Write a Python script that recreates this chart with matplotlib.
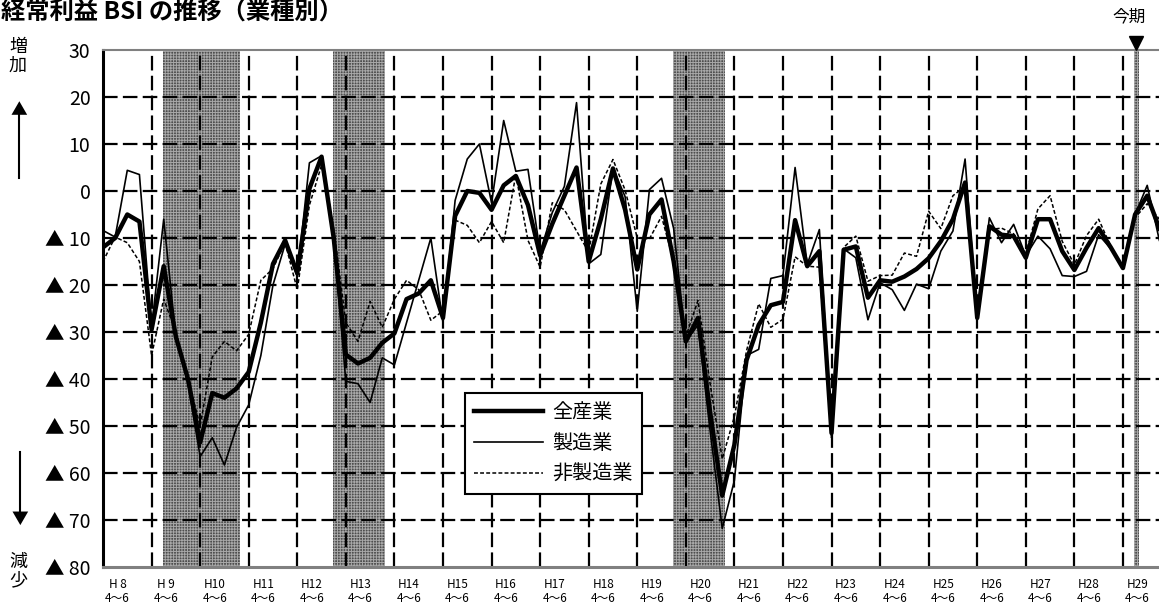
import numpy as np
import matplotlib
matplotlib.use("Agg")
import matplotlib.pyplot as plt
from matplotlib.lines import Line2D

plt.rcParams['font.family'] = ['Noto Sans CJK JP', 'DejaVu Sans']
plt.rcParams['hatch.linewidth'] = 0.7
plt.rcParams['lines.scale_dashes'] = False

# 四半期ごと（H8 1～3月期 ～ H29 10～12月期）
all_industries = [
    -12, -10, -5, -6.5, -29.5, -16, -31, -40, -53.5, -43, -44, -42,
    -38.5, -28, -15.5, -10.5, -17.5, 0.5, 7.3, -10, -34.8, -36.7, -35.5, -32.3,
    -30.3, -23, -21.8, -19, -27, -5.3, 0, -0.4, -4, 1.2, 3.2, -3,
    -13.7, -7, -1, 5, -15, -6, 4.8, -4, -16.7, -5, -1.8, -15,
    -32, -27, -47, -64.8, -54, -36, -28.5, -24.3, -23.6, -6.2, -16, -12.8,
    -51.5, -12.5, -11.8, -22.7, -19, -19.3, -18.2, -16.6, -14.3, -10.7, -6, 1.8,
    -27, -7.5, -9.3, -9.6, -14.2, -6, -6, -12.8, -16.8, -12.1, -7.9, -12,
    -16.4, -5, -1, -8,
]
manufacturing = [
    -8.4, -9.8, 4.4, 3.5, -29, -6, -31, -41, -56.5, -52.5, -58.3, -50.3,
    -45.5, -35, -20, -11.3, -18.2, 6, 7.5, -10, -40.5, -41, -45, -35.5,
    -37, -28, -19, -10, -28, -2, 6.8, 10, -2.5, 15, 4.2, 4.6,
    -13, -4.6, 1, 18.8, -15.5, -13.5, 4.9, -1.2, -25.6, 0.3, 2.7, -8,
    -32, -28.5, -51, -71.8, -61.6, -35, -33.7, -18.6, -18, 5, -15.6, -8.2,
    -52, -12.3, -14.2, -27.4, -19.5, -21, -25.4, -19.8, -20.8, -12.8, -8.5, 6.8,
    -27.5, -5.7, -11, -7.1, -13.8, -9.6, -12.3, -18, -18.2, -17.1, -9.3, -12.3,
    -16, -5, 1.2, -10.5,
]
non_manufacturing = [
    -15, -9.8, -11, -15, -35, -23, -30, -40, -50, -35.3, -32, -34,
    -30.5, -19, -16.5, -11, -21, -3, 5.5, -8, -28, -32, -23.5, -29,
    -23, -19, -21, -27.5, -25.5, -6.2, -7.3, -11, -6.5, -11, 3.5, -10.5,
    -16.2, -2.5, -4, -8.5, -13, 1.5, 6.7, 0.2, -10, -10.2, -5.4, -15,
    -31, -23.3, -41, -57, -48, -34, -24, -29, -27.3, -14, -16, -16.2,
    -52.5, -12, -9.6, -19.2, -18, -17.9, -13.2, -13.9, -4.3, -8, -1, 1,
    -25, -8.2, -7.9, -9.1, -13.4, -3.8, -1, -10.7, -15.7, -9.5, -6, -11.8,
    -16.2, -5.7, -2.7, -6,
]

year_labels = ["H 8", "H 9", "H10", "H11", "H12", "H13", "H14", "H15", "H16", "H17", "H18",
               "H19", "H20", "H21", "H22", "H23", "H24", "H25", "H26", "H27", "H28", "H29"]
y_ticks = [30, 20, 10, 0, -10, -20, -30, -40, -50, -60, -70, -80]
y_tick_labels = ["30", "20", "10", "0", "▲ 10", "▲ 20", "▲ 30", "▲ 40",
                 "▲ 50", "▲ 60", "▲ 70", "▲ 80"]
recessions = [(4.95, 11.25), (18.95, 23.25), (46.95, 51.25)]
current_period = (84.9, 85.3)

W, H = 1159, 608
fig = plt.figure(figsize=(W / 100, H / 100), dpi=100)
ax = fig.add_axes([103 / W, (H - 567) / H, 1060 / W, 517 / H])

x = np.arange(len(all_industries))

# 景気後退期の網掛け
for start, end in recessions + [current_period]:
    ax.axvspan(start, end, facecolor="#4e4e4e", edgecolor="#a8a8a8",
               hatch="++++++", linewidth=0, zorder=1)

grid_dash = (0, (10.5, 3.8))
for v in range(20, -80, -10):
    ax.axhline(v, color="black", lw=1.6, linestyle=grid_dash, zorder=2)
for k in range(4, 88, 4):
    ax.axvline(k, color="black", lw=1.6, linestyle=grid_dash, zorder=2)

ax.plot(x, all_industries, color="black", lw=3.2, zorder=5)
ax.plot(x, manufacturing, color="black", lw=1.2, zorder=4)
ax.plot(x, non_manufacturing, color="black", lw=1.1, linestyle=(0, (2.8, 1.6)), zorder=4)

ax.set_xlim(0, 87.3)
ax.set_ylim(-80, 30)

ax.set_yticks(y_ticks)
ax.set_yticklabels(y_tick_labels, fontsize=14)
ax.set_xticks([4 * k + 1.2 for k in range(len(year_labels))])
ax.set_xticklabels([f"{lab}\n4～6" for lab in year_labels], fontsize=8.5, linespacing=1.05)
ax.tick_params(axis="y", length=0, pad=9)
ax.tick_params(axis="x", length=0, pad=8)

ax.spines["left"].set_linewidth(2.2)
ax.spines["left"].set_color("black")
ax.spines["bottom"].set_linewidth(2.2)
ax.spines["bottom"].set_color("#808080")
ax.spines["top"].set_linewidth(1.5)
ax.spines["top"].set_color("#808080")
ax.spines["right"].set_visible(False)

# 今期マーカー
ax.plot([85.1], [31.5], marker="v", color="black", markersize=10, clip_on=False, zorder=6)
fig.text(1129 / W, 1 - 17 / H, "今期", fontsize=12, ha="center", va="center")

# タイトル
fig.text(1 / W, 1 - 13 / H, "経常利益 BSI の推移（業種別）", fontsize=17.5,
         fontweight="bold", ha="left", va="center")

# 増加／減少
fig.text(18 / W, 1 - 56 / H, "増\n加", fontsize=13, ha="center", va="center", linespacing=1.05)
fig.text(18 / W, 1 - 571 / H, "減\n少", fontsize=13, ha="center", va="center", linespacing=1.05)
fig.add_artist(plt.Line2D([19 / W, 19 / W], [1 - 178 / H, 1 - 115 / H], color="black", lw=1.5))
fig.text(19 / W, 1 - 111 / H, "▲", fontsize=12, ha="center", va="center")
fig.add_artist(plt.Line2D([20 / W, 20 / W], [1 - 452 / H, 1 - 515 / H], color="black", lw=1.5))
fig.text(20 / W, 1 - 519 / H, "▼", fontsize=12, ha="center", va="center")

handles = [
    Line2D([], [], color="black", lw=3.2),
    Line2D([], [], color="black", lw=1.2),
    Line2D([], [], color="black", lw=1.1, linestyle=(0, (2.8, 1.6))),
]
leg = ax.legend(handles, ["全産業", "製造業", "非製造業"], loc="upper left",
                bbox_to_anchor=(465 / W, 1 - 393 / H), bbox_transform=fig.transFigure,
                fontsize=14.5, handlelength=3.4, handletextpad=0.5, labelspacing=0.5,
                borderpad=0.45, borderaxespad=0, fancybox=False, framealpha=1)
leg.get_frame().set_edgecolor("black")
leg.get_frame().set_linewidth(1.5)
leg.set_zorder(10)

fig.savefig("out.png", dpi=100)
